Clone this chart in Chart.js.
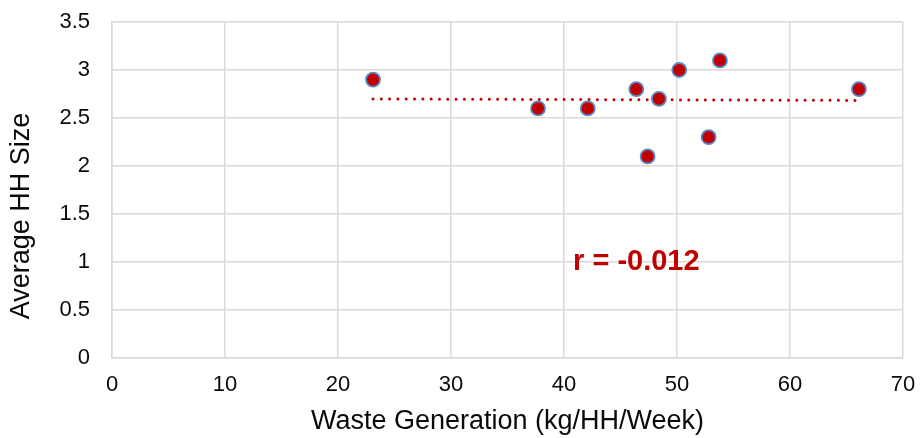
<!DOCTYPE html>
<html>
<head>
<meta charset="utf-8">
<script src="https://cdn.jsdelivr.net/npm/chart.js@4/dist/chart.umd.min.js"></script>
<style>
  html, body { margin: 0; padding: 0; background: #fff; }
  #wrap { width: 922px; height: 438px; }
</style>
</head>
<body>
<div id="wrap"><canvas id="c" width="922" height="438"></canvas></div>
<script>
// Data
const wasteGen = [23.1, 37.7, 42.1, 46.4, 47.4, 48.4, 50.2, 52.8, 53.8, 66.1];
const hhSize   = [2.9, 2.6, 2.6, 2.8, 2.1, 2.7, 3.0, 2.3, 3.1, 2.8];
const xTicks = [0, 10, 20, 30, 40, 50, 60, 70];
const yTicks = [0, 0.5, 1, 1.5, 2, 2.5, 3, 3.5];
const xTitle = 'Waste Generation (kg/HH/Week)';
const yTitle = 'Average HH Size';
const annotationText = 'r = -0.012';
const annotationPos = [40.8, 1.0];

// Linear trendline (least squares) computed from the data
const n = wasteGen.length;
const mx = wasteGen.reduce((a, b) => a + b, 0) / n;
const my = hhSize.reduce((a, b) => a + b, 0) / n;
let sxy = 0, sxx = 0;
for (let i = 0; i < n; i++) { sxy += (wasteGen[i] - mx) * (hhSize[i] - my); sxx += (wasteGen[i] - mx) ** 2; }
const slope = sxy / sxx, intercept = my - slope * mx;
const xMin = Math.min(...wasteGen), xMax = Math.max(...wasteGen);
const trend = [{x: xMin, y: intercept + slope * xMin}, {x: xMax, y: intercept + slope * xMax}];

const points = wasteGen.map((x, i) => ({x, y: hhSize[i]}));
const FONT = 'Liberation Sans, Arial, sans-serif';
const GRID = '#D9D9D9';
const TEXT = '#0a0a0a';

const annotationPlugin = {
  id: 'annot',
  afterDatasetsDraw(chart) {
    const {ctx, scales, chartArea} = chart;
    ctx.save();
    ctx.font = 'bold 29px ' + FONT;
    ctx.fillStyle = '#C00000';
    ctx.textAlign = 'left';
    ctx.textBaseline = 'middle';
    ctx.fillText(annotationText, scales.x.getPixelForValue(annotationPos[0]), scales.y.getPixelForValue(annotationPos[1]));
    // y-axis title (sits slightly below the plot's middle, as in the reference)
    ctx.font = '27px ' + FONT;
    ctx.fillStyle = TEXT;
    ctx.textAlign = 'center';
    ctx.textBaseline = 'middle';
    ctx.translate(22, (chartArea.top + chartArea.bottom) / 2 + 26);
    ctx.rotate(-Math.PI / 2);
    ctx.fillText(yTitle, 0, 0);
    ctx.restore();
  }
};

new Chart(document.getElementById('c'), {
  type: 'scatter',
  data: {
    datasets: [
      {
        label: 'HH size',
        data: points,
        backgroundColor: '#C00000',
        borderColor: '#5B87C5',
        borderWidth: 1.8,
        pointRadius: 7,
        pointHoverRadius: 7,
        order: 0
      },
      {
        label: 'Trend',
        type: 'line',
        data: trend,
        showLine: true,
        borderColor: '#C00000',
        borderWidth: 3,
        borderDash: [0.01, 8.3],
        borderCapStyle: 'round',
        pointRadius: 0,
        fill: false,
        order: 1
      }
    ]
  },
  options: {
    responsive: false,
    animation: false,
    devicePixelRatio: 1,
    layout: { padding: { top: 22, right: 19, left: 0, bottom: 0 } },
    plugins: { legend: { display: false }, tooltip: { enabled: false } },
    scales: {
      x: {
        type: 'linear', min: 0, max: 70,
        afterBuildTicks: s => { s.ticks = xTicks.map(v => ({value: v})); },
        afterFit: s => { s.height = 80; s.paddingLeft = 0; s.paddingRight = 0; },
        grid: { color: GRID, lineWidth: 1.5, drawTicks: false },
        border: { color: GRID, width: 1.5 },
        ticks: { font: { family: FONT, size: 22 }, color: TEXT, padding: 14, maxRotation: 0, callback: v => String(v) },
        title: { display: true, text: xTitle, font: { family: FONT, size: 27 }, color: TEXT, padding: { top: 0, bottom: 0 } }
      },
      y: {
        type: 'linear', min: 0, max: 3.5,
        afterBuildTicks: s => { s.ticks = yTicks.map(v => ({value: v})); },
        afterFit: s => { s.width = 112; s.paddingTop = 0; s.paddingBottom = 0; },
        grid: { color: GRID, lineWidth: 1.5, drawTicks: false },
        border: { color: GRID, width: 1.5 },
        ticks: { font: { family: FONT, size: 22 }, color: TEXT, padding: 22, callback: v => String(v) },
        title: { display: false, text: yTitle }
      }
    }
  },
  plugins: [annotationPlugin]
});
</script>
</body>
</html>
